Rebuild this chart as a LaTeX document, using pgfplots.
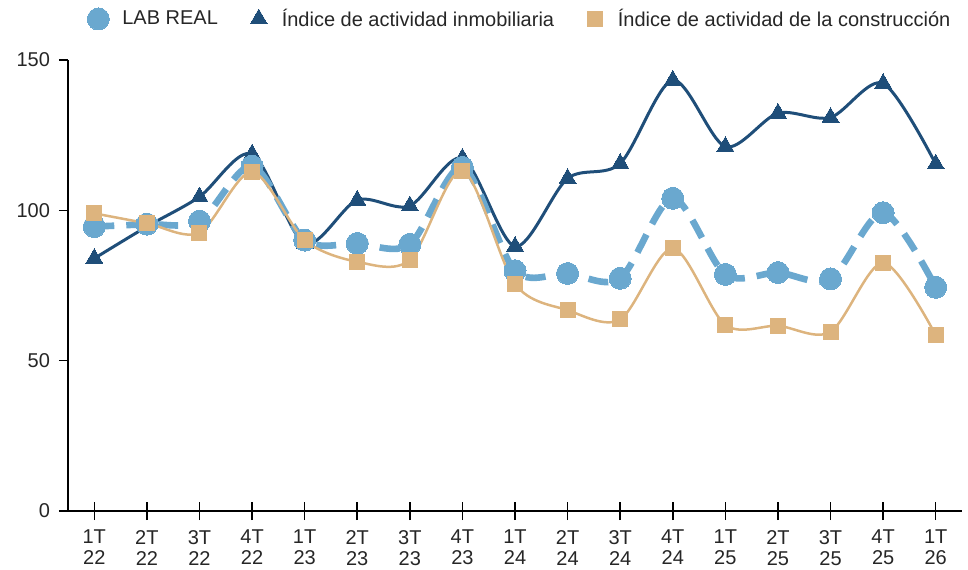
\documentclass[border=0pt]{standalone}
\usepackage{pgfplots}
\pgfplotsset{compat=1.18}
\usepackage{fontspec}
\setmainfont{Liberation Sans}
\definecolor{labblue}{HTML}{6AA8CF}
\definecolor{inmoblue}{HTML}{1F4E79}
\definecolor{constan}{HTML}{DDB47E}
\definecolor{txt}{HTML}{262626}
\begin{document}
\begin{tikzpicture}
\useasboundingbox (-34pt,-29pt) rectangle (450pt,255.5pt);
\begin{axis}[
  at={(0,0)}, anchor=south west, scale only axis,
  width=447pt, height=225.5pt,
  xmin=-0.5, xmax=16.5, ymin=0, ymax=150,
  axis x line*=bottom, axis y line*=left,
  axis line style={line width=1pt, black},
  xtick={0,...,16},
  xticklabels={1T\\22,2T\\22,3T\\22,4T\\22,1T\\23,2T\\23,3T\\23,4T\\23,1T\\24,2T\\24,3T\\24,4T\\24,1T\\25,2T\\25,3T\\25,4T\\25,1T\\26},
  ytick={0,50,100,150},
  tick align=outside, major tick length=4.5pt,
  tick style={line width=0.75pt, black},
  ticklabel style={font=\fontsize{10}{10.5}\selectfont, text=txt},
  xticklabel style={align=center, yshift=-1.5pt},
  yticklabel style={xshift=-1pt},
  /pgf/number format/assume math mode=true,
  clip=false,
  legend columns=-1,
  legend style={at={(0.0145,1.091)}, anchor=west, draw=none, fill=none,
    font=\fontsize{10}{12}\selectfont, text=txt,
    /tikz/every odd column/.append style={column sep=4.5pt},
    /tikz/every even column/.append style={column sep=13.4pt}},
  legend image code/.code={\path (-5pt,-5pt) rectangle (5pt,5pt);\draw[#1] plot coordinates {(0pt,0pt)};},
]
\addlegendimage{draw=none, mark=*, mark size=5.5pt, mark options={fill=labblue, draw=labblue, line width=0pt}}
\addlegendentry{LAB REAL}
\addlegendimage{draw=none, mark=triangle*, mark size=4.9pt, mark options={fill=inmoblue, draw=inmoblue, line width=0pt}}
\addlegendentry{Índice de actividad inmobiliaria}
\addlegendimage{draw=none, mark=square*, mark size=3.75pt, mark options={fill=constan, draw=constan, line width=0pt}}
\addlegendentry{Índice de actividad de la construcción}

\addplot[forget plot, smooth, color=inmoblue, line width=1.5pt, mark=triangle*, mark size=4.9pt, mark options={solid, fill=inmoblue, draw=inmoblue, line width=0pt}]
coordinates {(0,84.0) (1,94.6) (2,104.5) (3,118.7) (4,89.0) (5,103.4) (6,101.5) (7,117.3) (8,88.0) (9,110.6) (10,115.6) (11,143.3) (12,121.2) (13,132.3) (14,130.9) (15,142.2) (16,115.4)};

\addplot[forget plot, smooth, color=labblue, line width=3.3pt, dash pattern=on 10pt off 6pt, mark=*, mark size=5.5pt, mark options={solid, fill=labblue, draw=labblue, line width=0pt}]
coordinates {(0,94.6) (1,95.4) (2,96.4) (3,114.7) (4,90.1) (5,89.0) (6,88.7) (7,114.3) (8,79.9) (9,79.0) (10,77.4) (11,104.0) (12,78.7) (13,79.3) (14,77.2) (15,99.2) (16,74.4)};

\addplot[forget plot, smooth, color=constan, line width=1.25pt, mark=square*, mark size=3.75pt, mark options={solid, fill=constan, draw=constan, line width=0pt}]
coordinates {(0,99.0) (1,95.7) (2,92.6) (3,112.8) (4,90.1) (5,82.9) (6,83.5) (7,113.2) (8,75.5) (9,66.8) (10,63.7) (11,87.4) (12,61.9) (13,61.6) (14,59.6) (15,82.6) (16,58.5)};
\end{axis}
\begin{axis}[
  at={(0,0)}, anchor=south west, scale only axis,
  width=447pt, height=225.5pt,
  xmin=-0.5, xmax=16.5, ymin=0, ymax=150,
  axis x line*=bottom, axis y line=none,
  axis line style={line width=1pt, black},
  xtick={0,...,16}, xticklabels={}, ytick=\empty,
  tick align=inside, major tick length=4.5pt,
  tick style={line width=0.75pt, black},
]
\end{axis}
\end{tikzpicture}
\end{document}
